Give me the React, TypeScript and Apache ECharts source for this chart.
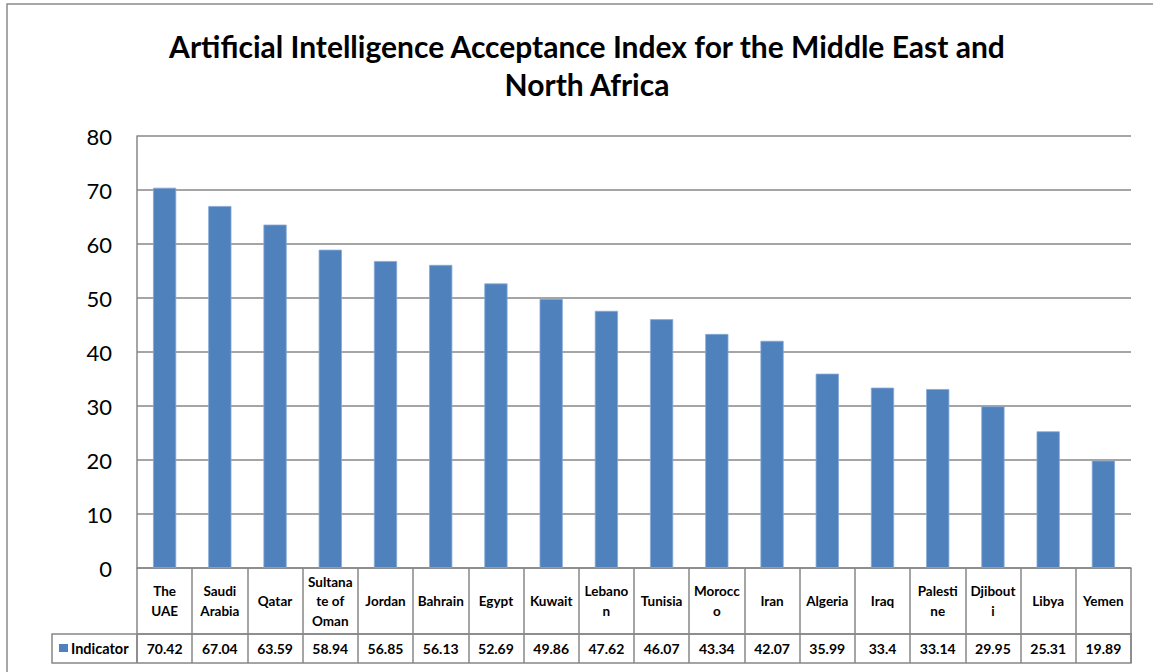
import React, { useEffect, useRef } from "react";
import * as echarts from "echarts";

const titleText = "Artificial Intelligence Acceptance Index for the Middle East and\nNorth Africa";
const seriesName = "Indicator";
const categories = [
  "The\nUAE", "Saudi\nArabia", "Qatar", "Sultana\nte of\nOman", "Jordan", "Bahrain",
  "Egypt", "Kuwait", "Lebano\nn", "Tunisia", "Morocc\no", "Iran", "Algeria", "Iraq",
  "Palesti\nne", "Djibout\ni", "Libya", "Yemen",
];
const values = [
  70.42, 67.04, 63.59, 58.94, 56.85, 56.13, 52.69, 49.86, 47.62, 46.07, 43.34, 42.07,
  35.99, 33.4, 33.14, 29.95, 25.31, 19.89,
];
const yTicks = { min: 0, max: 80, interval: 10 };

const FONT = "Lato";
const GRID_COLOR = "#878787";
const BAR_COLOR = "#4F81BD";

export default function App() {
  const ref = useRef<HTMLDivElement>(null);
  useEffect(() => {
    if (!ref.current) return;
    const chart = echarts.init(ref.current, undefined, { renderer: "svg" });
    const gridLeft = 137;
    const gridRight = 1131;
    const gridTop = 136;
    const gridBottom = 568;
    chart.setOption({
      animation: false,
      backgroundColor: "#ffffff",
      textStyle: { fontFamily: FONT },
      title: {
        text: titleText,
        left: 582,
        textAlign: "center",
        top: 22,
        textStyle: { fontFamily: FONT, fontSize: 30, fontWeight: "bold", color: "#000", lineHeight: 38 },
      },
      grid: { left: gridLeft, right: 1153 - gridRight, top: gridTop, bottom: 672 - gridBottom },
      xAxis: [
        {
          type: "category",
          data: categories,
          position: "bottom",
          axisLine: { show: true, lineStyle: { color: GRID_COLOR, width: 1.5 } },
          axisTick: { show: true, length: 95, interval: 0, lineStyle: { color: GRID_COLOR, width: 1.5 } },
          axisLabel: {
            interval: 0,
            margin: 33,
            verticalAlign: "middle",
            fontFamily: FONT,
            fontSize: 13.5,
            fontWeight: "bold",
            color: "#000",
            lineHeight: 19.5,
          },
        },
        {
          type: "category",
          data: values.map((v) => String(v)),
          position: "bottom",
          offset: 66,
          axisLine: { show: true, lineStyle: { color: GRID_COLOR, width: 1.5 } },
          axisTick: { show: false },
          axisLabel: {
            interval: 0,
            margin: 14,
            verticalAlign: "middle",
            fontFamily: FONT,
            fontSize: 14,
            fontWeight: "bold",
            color: "#000",
          },
        },
      ],
      yAxis: {
        type: "value",
        min: yTicks.min,
        max: yTicks.max,
        interval: yTicks.interval,
        axisLine: { show: true, lineStyle: { color: GRID_COLOR, width: 1.5 } },
        axisTick: { show: false },
        splitLine: { show: true, lineStyle: { color: GRID_COLOR, width: 1.5 } },
        axisLabel: { fontFamily: FONT, fontSize: 22, color: "#000", margin: 25 },
      },
      series: [
        {
          name: seriesName,
          type: "bar",
          data: values,
          barWidth: "42%",
          xAxisIndex: 0,
          itemStyle: { color: BAR_COLOR, borderColor: "#86A9D6", borderWidth: 0.8 },
        },
      ],
      graphic: [
        {
          type: "rect",
          shape: { x: 7, y: 4, width: 1170, height: 700 },
          style: { fill: "none", stroke: "#8a8a8a", lineWidth: 1.5 },
          silent: true,
        },
        {
          type: "rect",
          shape: { x: 52, y: 634, width: gridRight - 52, height: 29 },
          style: { fill: "none", stroke: GRID_COLOR, lineWidth: 1.5 },
          silent: true,
        },
        {
          type: "line",
          shape: { x1: gridLeft, y1: 634, x2: gridLeft, y2: 663 },
          style: { stroke: GRID_COLOR, lineWidth: 1.5 },
          silent: true,
        },
        {
          type: "rect",
          shape: { x: 59, y: 644, width: 9, height: 8 },
          style: { fill: BAR_COLOR },
          silent: true,
        },
        {
          type: "text",
          x: 71,
          y: 648,
          style: {
            text: seriesName,
            fontFamily: FONT,
            fontSize: 14.5,
            fontWeight: "bold",
            fill: "#000",
            verticalAlign: "middle",
          },
          silent: true,
        },
      ],
    });
    return () => chart.dispose();
  }, []);
  return (
    <div
      ref={ref}
      style={{ position: "fixed", left: 0, top: 0, width: 1153, height: 672, background: "#fff" }}
    />
  );
}
